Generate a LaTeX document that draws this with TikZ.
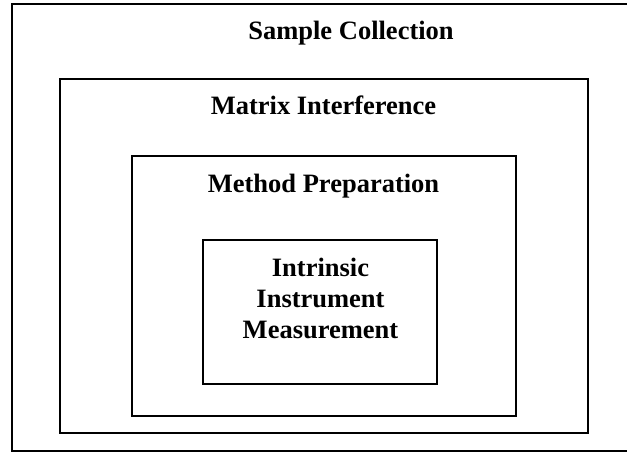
\documentclass[tikz,border=0pt]{standalone}
\usepackage{fontspec}
\setmainfont{Liberation Serif}
\begin{document}
\begin{tikzpicture}[x=1pt,y=-1pt,
  frame/.style={draw=black,line width=1.3pt,inner sep=0pt,outer sep=0pt},
  lbl/.style={font=\fontsize{26.5}{31}\selectfont\bfseries,inner sep=0pt,anchor=base}]
\useasboundingbox (0,0) rectangle (627,452);
\clip (0,0) rectangle (627,452);
\fill[white] (0,0) rectangle (627,452);
\draw[frame] (12,4) rectangle (640,451);
\draw[frame] (60,79) rectangle (588,433);
\draw[frame] (132,156) rectangle (516,416);
\draw[frame] (203,240) rectangle (437,384);
\node[lbl] (sc) at (351,40) {Sample Collection};
\node[lbl] (mi) at (323.5,114) {Matrix Interference};
\node[lbl] (mp) at (323.5,192) {Method Preparation};
\node[lbl,anchor=center,align=center] (iim) at (320.5,298) {Intrinsic\\Instrument\\Measurement};
\end{tikzpicture}
\end{document}
